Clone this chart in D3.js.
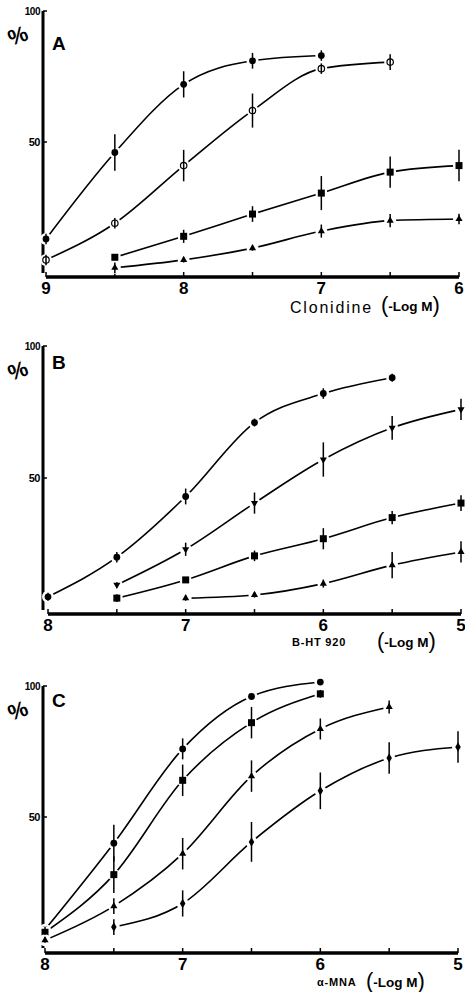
<!DOCTYPE html>
<html>
<head>
<meta charset="utf-8">
<script src="https://cdn.jsdelivr.net/npm/d3@7"></script>
<style>
  body { margin: 0; background: #fff; }
  svg { display: block; }
  text { font-family: "Liberation Sans", Arial, sans-serif; fill: #000; }
</style>
</head>
<body>
<svg id="canvas" width="465" height="992"></svg>
<script>
// ---- data (dose in -log M, response in %) ----
var ticksA = [9, 8, 7, 6];
var ticksBC = [8, 7, 6, 5];
var halfTicksA = [9, 8.5, 8, 7.5, 7, 6.5, 6];
var halfTicksBC = [8, 7.5, 7, 6.5, 6, 5.5, 5];
var yTickLabels = [100, 50];

// panel A : clonidine
var aCircleX = [9, 8.5, 8, 7.5, 7];
var aCircleY = [13, 46, 72, 81, 83];
var aCircleE = [2, 7, 5, 3, 2];
var aOpenX = [9, 8.5, 8, 7.5, 7, 6.5];
var aOpenY = [5, 19, 41, 62, 78, 80.5];
var aOpenE = [2, 2, 6, 6.5, 2, 3];
var aSquareX = [8.5, 8, 7.5, 7, 6.5, 6];
var aSquareY = [6, 14, 22.5, 30.5, 38.5, 41];
var aSquareE = [1, 2.5, 3, 6.5, 6, 6];
var aTriX = [8.5, 8, 7.5, 7, 6.5, 6];
var aTriY = [2, 5, 9.5, 16, 20, 20.6];
var aTriE = [2, 1, 1, 2.5, 2.5, 2];

// panel B : B-HT 920
var bCircleX = [8, 7.5, 7, 6.5, 6, 5.5];
var bCircleY = [5, 20, 43, 71, 82, 88];
var bCircleE = [1.5, 2, 3, 1.5, 2, 1.5];
var bInvX = [7.5, 7, 6.5, 6, 5.5, 5];
var bInvY = [9.5, 23, 40.5, 57, 69, 76];
var bInvE = [1, 2.5, 4, 6.5, 4.5, 4];
var bSquareX = [7.5, 7, 6.5, 6, 5.5, 5];
var bSquareY = [4.5, 11.4, 20.5, 27, 35, 40.5];
var bSquareE = [1.5, 1, 2, 4, 2.5, 3];
var bTriX = [7, 6.5, 6, 5.5, 5];
var bTriY = [4.5, 5.7, 10, 17, 22];
var bTriE = [1, 1, 1.5, 5, 4];

// panel C : alpha-MNA
var cCircleX = [8, 7.5, 7, 6.5, 6];
var cCircleY = [7, 40, 76, 96, 101.5];
var cCircleE = [1, 7, 4, 1, 1];
var cSquareX = [8, 7.5, 7, 6.5, 6];
var cSquareY = [6, 28, 64, 86, 97];
var cSquareE = [1, 7, 6, 6, 1.5];
var cTriX = [8, 7.5, 7, 6.5, 6, 5.5];
var cTriY = [3, 16, 36, 65.6, 83.6, 92];
var cTriE = [1, 3, 6, 6, 4, 2.5];
var cDiaX = [7.5, 7, 6.5, 6, 5.5, 5];
var cDiaY = [8, 17, 40.5, 60, 72.5, 76.7];
var cDiaE = [3, 5, 7.6, 7, 6, 6];

function zipSeries(xs, ys, es, shape){
	return { shape: shape, points: xs.map(function(x, i){ return { x: x, y: ys[i], e: es[i] }; }) };
}

var panels = [
	{ letter: 'A', letterDy: 39, top: 11, zero: 273, axisY: 277, x0: 46, x1: 459, domain: [9, 6],
	  ticks: ticksA, minor: halfTicksA, drug: 'Clonidine',
	  series: [
		zipSeries(aCircleX, aCircleY, aCircleE, 'circle'),
		zipSeries(aOpenX, aOpenY, aOpenE, 'open'),
		zipSeries(aSquareX, aSquareY, aSquareE, 'square'),
		zipSeries(aTriX, aTriY, aTriE, 'triangle')
	  ] },
	{ letter: 'B', letterDy: 23, top: 346, zero: 610, axisY: 614, x0: 48, x1: 461, domain: [8, 5],
	  ticks: ticksBC, minor: halfTicksBC, drug: 'B-HT 920',
	  series: [
		zipSeries(bCircleX, bCircleY, bCircleE, 'circle'),
		zipSeries(bInvX, bInvY, bInvE, 'invtriangle'),
		zipSeries(bSquareX, bSquareY, bSquareE, 'square'),
		zipSeries(bTriX, bTriY, bTriE, 'triangle')
	  ] },
	{ letter: 'C', letterDy: 21, top: 686, zero: 948, axisY: 953, x0: 45, x1: 458, domain: [8, 5],
	  ticks: ticksBC, minor: halfTicksBC, drug: '\u03b1-MNA',
	  series: [
		zipSeries(cCircleX, cCircleY, cCircleE, 'circle'),
		zipSeries(cSquareX, cSquareY, cSquareE, 'square'),
		zipSeries(cTriX, cTriY, cTriE, 'triangle'),
		zipSeries(cDiaX, cDiaY, cDiaE, 'diamond')
	  ] }
];

var svg = d3.select('#canvas');

function drawMarker(g, shape, cx, cy){
	// white halo breaks the curve around each marker
	g.append('circle').attr('cx', cx).attr('cy', cy).attr('r', 6).attr('fill', '#fff');
	if (shape == 'circle') {
		g.append('circle').attr('cx', cx).attr('cy', cy).attr('r', 3.4).attr('fill', '#000');
	} else if (shape == 'open') {
		g.append('circle').attr('cx', cx).attr('cy', cy).attr('r', 3.2)
			.attr('fill', '#fff').attr('stroke', '#000').attr('stroke-width', 1.2);
	} else if (shape == 'square') {
		g.append('rect').attr('x', cx - 3.5).attr('y', cy - 3.5).attr('width', 7).attr('height', 7).attr('fill', '#000');
	} else {
		var sym = shape == 'diamond' ? d3.symbolDiamond : d3.symbolTriangle;
		var size = shape == 'diamond' ? 26 : 22;
		var rot = shape == 'invtriangle' ? 180 : 0;
		g.append('path')
			.attr('d', d3.symbol().type(sym).size(size)())
			.attr('transform', 'translate(' + cx + ',' + cy + ') rotate(' + rot + ')')
			.attr('fill', '#000');
	}
}

panels.forEach(function(p){
	var x = d3.scaleLinear().domain(p.domain).range([p.x0, p.x1]);
	var y = d3.scaleLinear().domain([0, 100]).range([p.zero, p.top]);
	var g = svg.append('g');
	var axisX = 43;

	// y axis
	g.append('line').attr('x1', axisX).attr('x2', axisX).attr('y1', p.top).attr('y2', p.zero)
		.attr('stroke', '#000').attr('stroke-width', 3);
	yTickLabels.forEach(function(v){
		g.append('line').attr('x1', axisX).attr('x2', axisX + 4).attr('y1', y(v)).attr('y2', y(v))
			.attr('stroke', '#000').attr('stroke-width', 1.5);
		g.append('text').attr('x', axisX - 3).attr('y', y(v) + 3.5).attr('text-anchor', 'end')
			.attr('font-size', v == 100 ? 10 : 11).attr('font-weight', 'bold').attr('letter-spacing', -0.5)
			.text(v);
	});

	// x axis
	g.append('line').attr('x1', p.x0).attr('x2', p.x1).attr('y1', p.axisY).attr('y2', p.axisY)
		.attr('stroke', '#000').attr('stroke-width', 3.5);
	p.minor.forEach(function(v){
		g.append('line').attr('x1', x(v)).attr('x2', x(v)).attr('y1', p.axisY).attr('y2', p.axisY - 5)
			.attr('stroke', '#000').attr('stroke-width', 1.5);
	});
	p.ticks.forEach(function(v){
		g.append('text').attr('x', x(v)).attr('y', p.axisY + 17).attr('text-anchor', 'middle')
			.attr('font-size', 17).attr('font-weight', 'bold').text(v);
	});

	// % and panel letter
	g.append('text').attr('x', 18).attr('y', p.top + 32).attr('text-anchor', 'middle')
		.attr('font-size', 22).attr('font-weight', 'bold')
		.attr('transform', 'rotate(-20,18,' + (p.top + 25) + ')').text('%');
	g.append('text').attr('x', 52).attr('y', p.top + p.letterDy)
		.attr('font-size', 19).attr('font-weight', 'bold').text(p.letter);

	// axis title
	var title;
	if (p.letter == 'A') {
		g.append('text').attr('x', 290).attr('y', 313)
			.attr('font-size', 16).attr('letter-spacing', 1.8).text(p.drug);
		title = g.append('text').attr('x', 381).attr('y', 312);
		title.append('tspan').attr('font-size', 22).text('(');
		title.append('tspan').attr('font-size', 13.5).attr('font-weight', 'bold').attr('dy', -1).text('-Log M');
		title.append('tspan').attr('font-size', 22).attr('dy', 1).text(')');
	} else {
		var cy = p.axisY + 28 + (p.letter == 'C' ? 1 : 0);
		g.append('text').attr('x', p.letter == 'B' ? 292 : 317).attr('y', cy + 4)
			.attr('font-size', 11).attr('font-weight', 'bold').attr('letter-spacing', 0.8).text(p.drug);
		title = g.append('text').attr('x', p.letter == 'B' ? 377 : 366).attr('y', cy + 6);
		title.append('tspan').attr('font-size', 22).text('(');
		title.append('tspan').attr('font-size', 13.5).attr('font-weight', 'bold').attr('dy', -1.5).text('-Log M');
		title.append('tspan').attr('font-size', 22).attr('dy', 1.5).text(')');
	}

	// curves, error bars, markers
	var line = d3.line()
		.x(function(d){ return x(d.x); })
		.y(function(d){ return y(d.y); })
		.curve(d3.curveMonotoneX);

	p.series.forEach(function(s){
		g.append('path').attr('d', line(s.points))
			.attr('fill', 'none').attr('stroke', '#000').attr('stroke-width', 1.6);
	});
	p.series.forEach(function(s){
		s.points.forEach(function(d){
			drawMarker(g, s.shape, x(d.x), y(d.y));
		});
	});
	p.series.forEach(function(s){
		s.points.forEach(function(d){
			g.append('line').attr('x1', x(d.x)).attr('x2', x(d.x))
				.attr('y1', y(d.y + d.e)).attr('y2', y(d.y - d.e))
				.attr('stroke', '#000').attr('stroke-width', 1.5);
		});
	});
});
</script>
</body>
</html>
